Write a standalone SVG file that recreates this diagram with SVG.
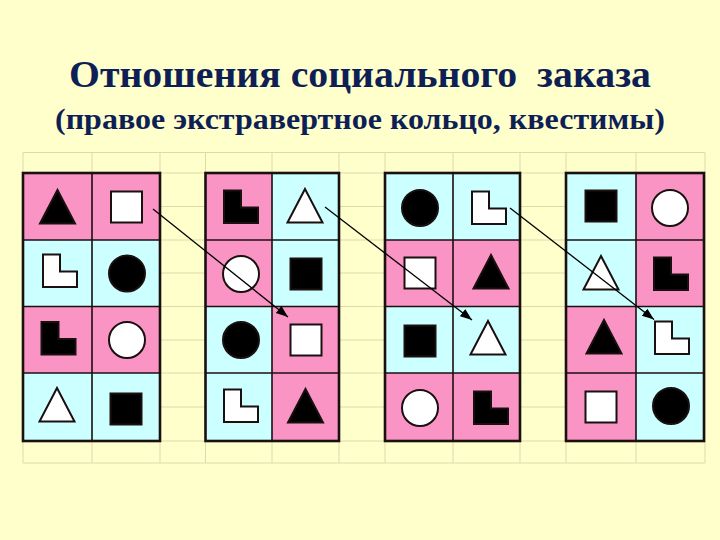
<svg xmlns="http://www.w3.org/2000/svg" xmlns:xlink="http://www.w3.org/1999/xlink" width="720" height="540" viewBox="0 0 720 540">
<style>
.t{font-family:"Liberation Serif","Times New Roman",serif;font-weight:bold;fill:#0e1f55;text-anchor:middle}
.g{stroke:#ddd9aa;stroke-width:1;fill:none}
.p{fill:#fa94c4}
.c{fill:#ccffff}
.ln{stroke:#1a1010;stroke-width:1.6;fill:none}
.bd{stroke:#1a1010;stroke-width:2.6;fill:none}
.b{fill:#000;stroke:#1a1010;stroke-width:2}
.w{fill:#fff;stroke:#1a1010;stroke-width:2}
.ar{stroke:#000;stroke-width:1.3;fill:none;marker-end:url(#ah)}
</style>
<defs>
<marker id="ah" markerUnits="userSpaceOnUse" markerWidth="14" markerHeight="10" refX="12" refY="4.5" orient="auto">
<path d="M0,0 L12,4.5 L0,9 z" fill="#000"/>
</marker>
<rect id="sq" x="-15.5" y="-15.5" width="31" height="31"/>
<circle id="ci" cx="0" cy="0" r="18"/>
<polygon id="tr" points="0,-17 17.5,16.5 -17.5,16.5"/>
<path id="el" d="M-17,-16.5 h17 v17 h17 v15.5 h-34 z"/>
</defs>
<rect width="720" height="540" fill="#ffffcc"/>
<text class="t" x="360" y="87" font-size="37" xml:space="preserve" textLength="582" lengthAdjust="spacingAndGlyphs">Отношения социального  заказа</text>
<text class="t" x="360" y="129" font-size="29" xml:space="preserve" textLength="610" lengthAdjust="spacingAndGlyphs">(правое экстравертное кольцо, квестимы)</text>
<g id="sheet-grid" class="g">
<path d="M23,152.5H705M23,173H705M23,206.5H705M23,240H705M23,273H705M23,306.5H705M23,340H705M23,373H705M23,407H705M23,441H705M23,463H705"/>
<path d="M23,152.5V463M92,152.5V463M160,152.5V463M205.5,152.5V463M272,152.5V463M339,152.5V463M385,152.5V463M453,152.5V463M520,152.5V463M566,152.5V463M636,152.5V463M705,152.5V463"/>
</g>
<g id="block1">
<g id="b1r1c1"><rect class="p" x="23" y="173" width="69" height="67"/><use href="#tr" class="b" x="57.5" y="207"/></g>
<g id="b1r1c2"><rect class="p" x="92" y="173" width="68" height="67"/><use href="#sq" class="w" x="126.5" y="207"/></g>
<g id="b1r2c1"><rect class="c" x="23" y="240" width="69" height="66.5"/><use href="#el" class="w" x="60" y="271"/></g>
<g id="b1r2c2"><rect class="c" x="92" y="240" width="68" height="66.5"/><use href="#ci" class="b" x="127" y="273.5"/></g>
<g id="b1r3c1"><rect class="p" x="23" y="306.5" width="69" height="66.5"/><use href="#el" class="b" x="58.5" y="338.5"/></g>
<g id="b1r3c2"><rect class="p" x="92" y="306.5" width="68" height="66.5"/><use href="#ci" class="w" x="127" y="340"/></g>
<g id="b1r4c1"><rect class="c" x="23" y="373" width="69" height="68"/><use href="#tr" class="w" x="57" y="405"/></g>
<g id="b1r4c2"><rect class="c" x="92" y="373" width="68" height="68"/><use href="#sq" class="b" x="126" y="409"/></g>
<path class="ln" d="M92,173V441M23,240H160M23,306.5H160M23,373H160"/>
<rect class="bd" x="23" y="173" width="137" height="268"/>
</g>
<g id="block2">
<g id="b2r1c1"><rect class="p" x="205.5" y="173" width="66.5" height="67"/><use href="#el" class="b" x="241" y="207"/></g>
<g id="b2r1c2"><rect class="c" x="272" y="173" width="67" height="67"/><use href="#tr" class="w" x="305" y="206"/></g>
<g id="b2r2c1"><rect class="p" x="205.5" y="240" width="66.5" height="66.5"/><use href="#ci" class="w" x="241" y="274"/></g>
<g id="b2r2c2"><rect class="c" x="272" y="240" width="67" height="66.5"/><use href="#sq" class="b" x="306" y="274"/></g>
<g id="b2r3c1"><rect class="c" x="205.5" y="306.5" width="66.5" height="66.5"/><use href="#ci" class="b" x="241" y="340"/></g>
<g id="b2r3c2"><rect class="p" x="272" y="306.5" width="67" height="66.5"/><use href="#sq" class="w" x="306" y="340"/></g>
<g id="b2r4c1"><rect class="c" x="205.5" y="373" width="66.5" height="68"/><use href="#el" class="w" x="241" y="406"/></g>
<g id="b2r4c2"><rect class="p" x="272" y="373" width="67" height="68"/><use href="#tr" class="b" x="305.5" y="406"/></g>
<path class="ln" d="M272,173V441M205.5,240H339M205.5,306.5H339M205.5,373H339"/>
<rect class="bd" x="205.5" y="173" width="133.5" height="268"/>
</g>
<g id="block3">
<g id="b3r1c1"><rect class="c" x="385" y="173" width="68" height="67"/><use href="#ci" class="b" x="420" y="208"/></g>
<g id="b3r1c2"><rect class="c" x="453" y="173" width="67" height="67"/><use href="#el" class="w" x="489" y="208"/></g>
<g id="b3r2c1"><rect class="p" x="385" y="240" width="68" height="66.5"/><use href="#sq" class="w" x="420" y="273"/></g>
<g id="b3r2c2"><rect class="p" x="453" y="240" width="67" height="66.5"/><use href="#tr" class="b" x="491" y="272"/></g>
<g id="b3r3c1"><rect class="c" x="385" y="306.5" width="68" height="66.5"/><use href="#sq" class="b" x="420" y="341"/></g>
<g id="b3r3c2"><rect class="c" x="453" y="306.5" width="67" height="66.5"/><use href="#tr" class="w" x="488" y="338"/></g>
<g id="b3r4c1"><rect class="p" x="385" y="373" width="68" height="68"/><use href="#ci" class="w" x="420" y="408"/></g>
<g id="b3r4c2"><rect class="p" x="453" y="373" width="67" height="68"/><use href="#el" class="b" x="491" y="408"/></g>
<path class="ln" d="M453,173V441M385,240H520M385,306.5H520M385,373H520"/>
<rect class="bd" x="385" y="173" width="135" height="268"/>
</g>
<g id="block4">
<g id="b4r1c1"><rect class="c" x="566" y="173" width="70" height="67"/><use href="#sq" class="b" x="601" y="206"/></g>
<g id="b4r1c2"><rect class="p" x="636" y="173" width="68" height="67"/><use href="#ci" class="w" x="670" y="208"/></g>
<g id="b4r2c1"><rect class="c" x="566" y="240" width="70" height="66.5"/><use href="#tr" class="w" x="601" y="273"/></g>
<g id="b4r2c2"><rect class="p" x="636" y="240" width="68" height="66.5"/><use href="#el" class="b" x="671" y="274"/></g>
<g id="b4r3c1"><rect class="p" x="566" y="306.5" width="70" height="66.5"/><use href="#tr" class="b" x="604" y="337"/></g>
<g id="b4r3c2"><rect class="c" x="636" y="306.5" width="68" height="66.5"/><use href="#el" class="w" x="672" y="338"/></g>
<g id="b4r4c1"><rect class="p" x="566" y="373" width="70" height="68"/><use href="#sq" class="w" x="601" y="407"/></g>
<g id="b4r4c2"><rect class="c" x="636" y="373" width="68" height="68"/><use href="#ci" class="b" x="671" y="406"/></g>
<path class="ln" d="M636,173V441M566,240H704M566,306.5H704M566,373H704"/>
<rect class="bd" x="566" y="173" width="138" height="268"/>
</g>
<g id="connectors">
<line class="ar" x1="153" y1="209" x2="288" y2="317"/>
<line class="ar" x1="325" y1="207" x2="472" y2="320"/>
<line class="ar" x1="510" y1="208" x2="654" y2="319.5"/>
</g>
</svg>
